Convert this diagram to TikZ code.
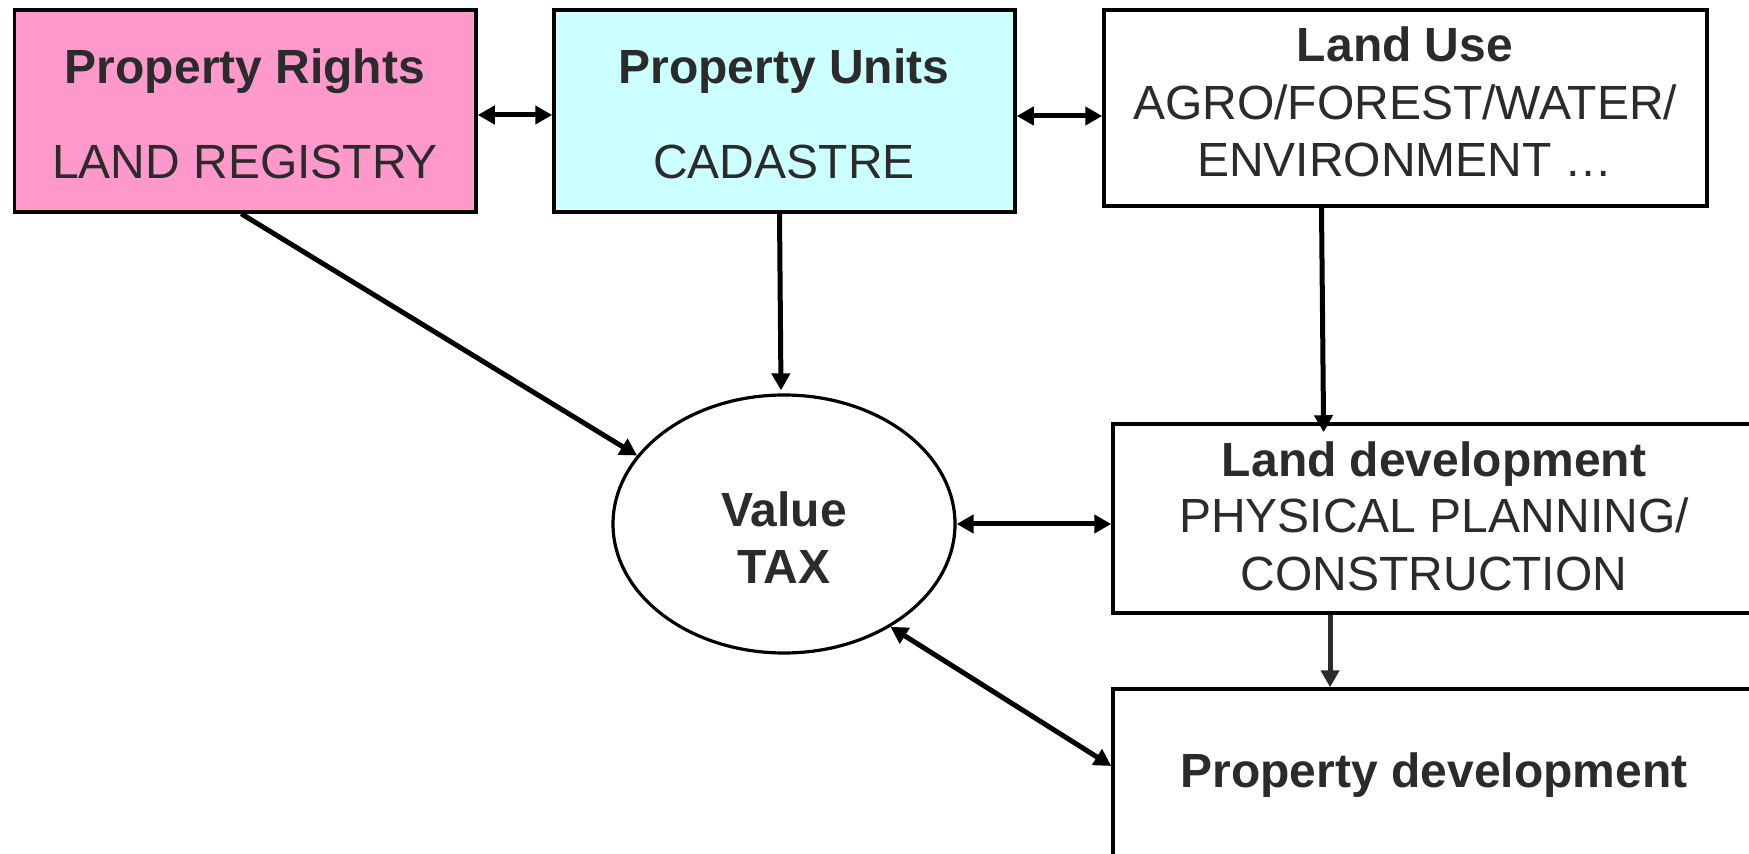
\documentclass[tikz,border=0pt]{standalone}
\usepackage{fontspec}
\setmainfont{Liberation Sans}
\usetikzlibrary{arrows.meta,shapes.geometric,calc}
\definecolor{pinkfill}{HTML}{FF99CC}
\definecolor{cyanfill}{HTML}{CCFFFF}
\definecolor{txt}{HTML}{2B2B2B}
\begin{document}
\begin{tikzpicture}[x=0.5pt,y=-0.5pt,
  box/.style={draw=black,line width=1.75pt,inner sep=0pt,rectangle},
  lbl/.style={anchor=base,text=txt,font=\fontsize{24}{28}\selectfont,inner sep=0pt},
  bl/.style={lbl,font=\fontsize{24}{28}\selectfont\bfseries},
  conn/.style={line width=2.5pt,-{Triangle[length=8.5pt,width=9pt]}},
  dconn/.style={line width=2.5pt,{Triangle[length=8.5pt,width=9pt]}-{Triangle[length=8.5pt,width=9pt]}}]
\useasboundingbox (0,0) rectangle (1749,854);
\clip (0,0) rectangle (1749,854);
\fill[white] (0,0) rectangle (1749,854);
% boxes
\node[box,fill=pinkfill,minimum width=230.75pt,minimum height=101pt] (b1) at (245.25,111) {};
\node[box,fill=cyanfill,minimum width=230.5pt,minimum height=101pt] (b2) at (784.5,111) {};
\node[box,fill=white,minimum width=301.5pt,minimum height=98pt] (b3) at (1405.5,108) {};
\node[draw=black,line width=1.6pt,ellipse,inner sep=0pt,minimum width=171pt,minimum height=129pt,fill=white] (v) at (784,524) {};
\node[box,fill=white,minimum width=321pt,minimum height=94.5pt] (ld) at (1434,518.5) {};
\node[box,fill=white,minimum width=321pt,minimum height=100pt] (pd) at (1434,789) {};
% texts
\node[bl] (t1a) at (245,84) {Property Rights};
\node[lbl] (t1b) at (245,179) {LAND REGISTRY};
\node[bl] (t2a) at (784,84) {Property Units};
\node[lbl] (t2b) at (784,179) {CADASTRE};
\node[bl] (t3a) at (1405,62) {Land Use};
\node[lbl] (t3b) at (1405,120) {AGRO/FOREST/WATER/};
\node[lbl] (t3c) at (1405,177) {ENVIRONMENT \dots};
\node[bl] (tva) at (784,527) {Value};
\node[bl] (tvb) at (784,584) {TAX};
\node[bl] (tla) at (1434,477) {Land development};
\node[lbl] (tlb) at (1434,533) {PHYSICAL PLANNING/};
\node[lbl] (tlc) at (1434,591) {CONSTRUCTION};
\node[bl] (tpa) at (1434,787) {Property development};
% connectors
\draw[dconn] ([yshift=-2pt]b1.east) -- ([yshift=-2pt]b2.west);
\draw[dconn] ([yshift=-2.5pt]b2.east) -- ([yshift=-2.5pt]b2.east -| b3.west);
\draw[conn] ([xshift=-2pt]b1.south) -- (v.155);
\draw[conn] ([xshift=-2.5pt]b2.south) -- ([xshift=-1.5pt,yshift=1.5pt]v.north);
\coordinate (c3) at ($(b3.south west)!0.3615!(b3.south east)$);
\coordinate (c4) at ($(ld.north west)!0.329!(ld.north east)$);
\draw[conn] (c3) -- ([yshift=-5pt]c4);
\draw[dconn] (v.east) -- (v.east -| ld.west);
\coordinate (c5) at ($(ld.south west)!0.339!(ld.south east)$);
\draw[line width=2.5pt,draw=txt,fill=txt,-{Triangle[length=8.5pt,width=9pt]}] (c5) -- (c5 |- pd.north);
\draw[dconn] (v.-44) -- (pd.west |- 0,766);
\end{tikzpicture}
\end{document}
